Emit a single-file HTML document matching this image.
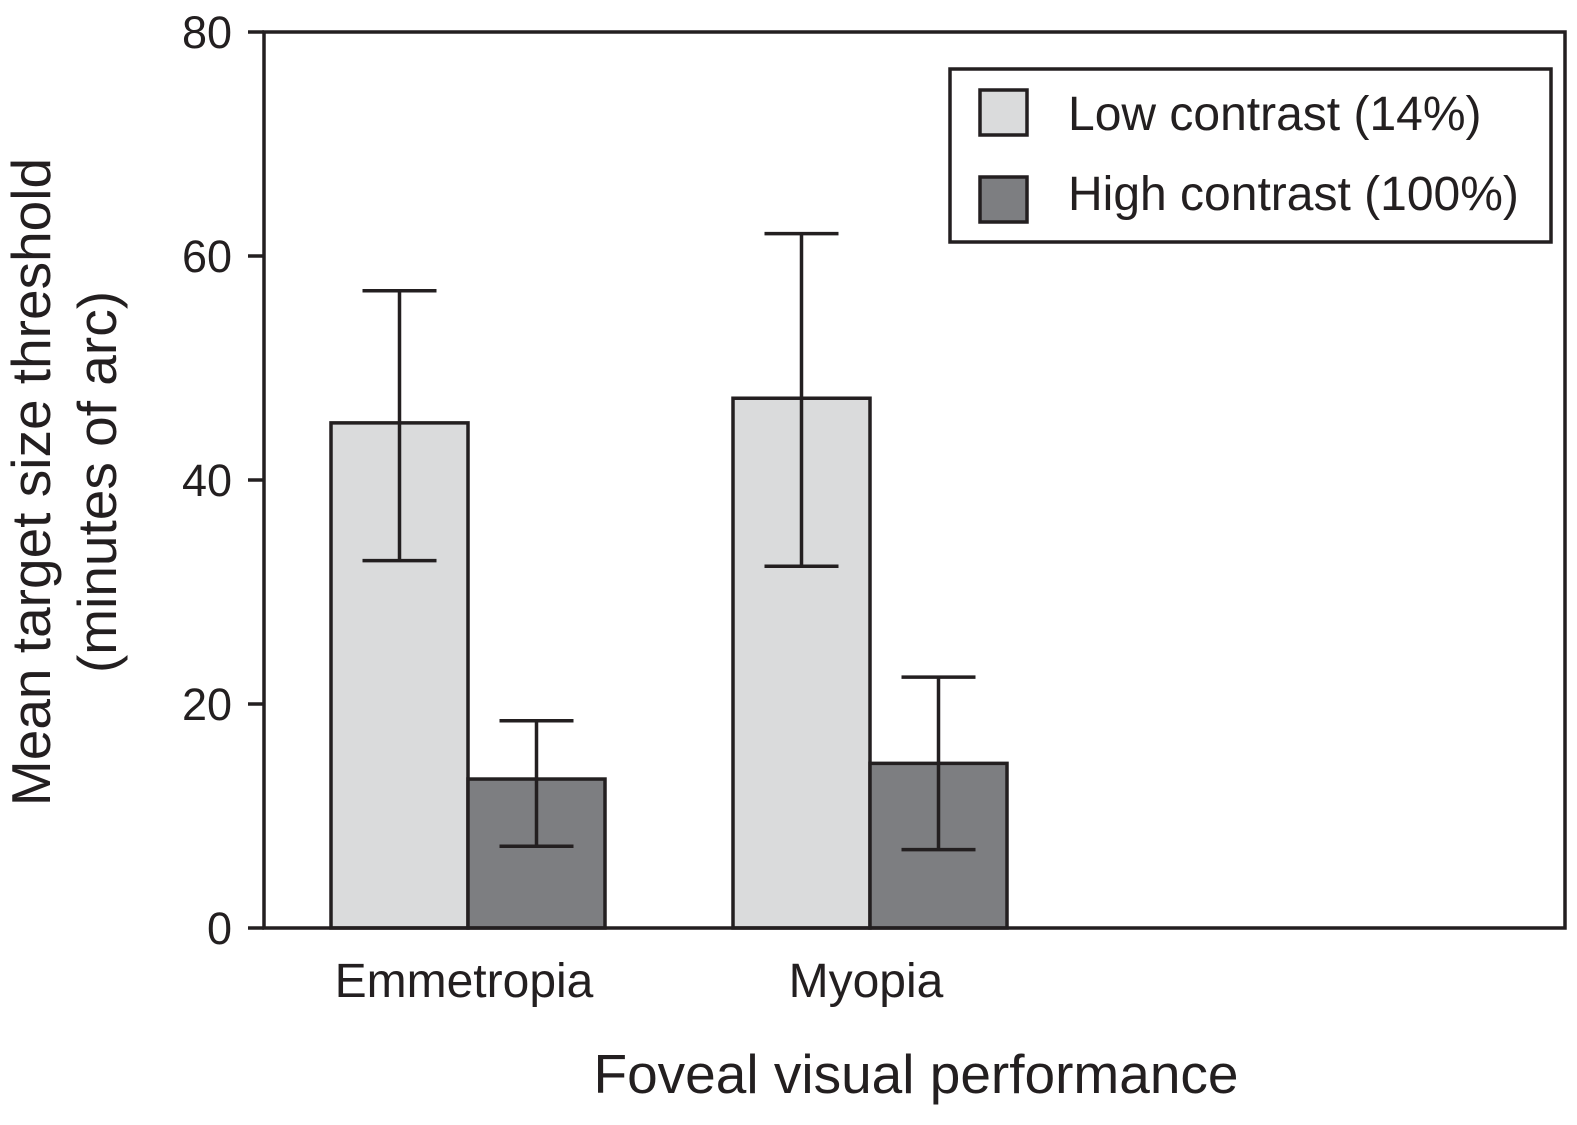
<!DOCTYPE html>
<html><head><meta charset="utf-8"><style>
html,body{margin:0;padding:0;background:#fff;}
svg{display:block;font-family:"Liberation Sans",Arial,sans-serif;}
</style></head><body>
<svg id="chart" width="1577" height="1125" viewBox="0 0 1577 1125" xmlns="http://www.w3.org/2000/svg">
<rect x="0" y="0" width="1577" height="1125" fill="#fff"/>
<g id="plot"></g>
<text x="916" y="1093" font-size="55" text-anchor="middle" fill="#231f20">Foveal visual performance</text>
<text transform="translate(50,482) rotate(-90)" font-size="55" text-anchor="middle" fill="#231f20">Mean target size threshold</text>
<text transform="translate(116,482) rotate(-90)" font-size="55" text-anchor="middle" fill="#231f20">(minutes of arc)</text>
<g>
<rect x="950" y="69" width="601" height="173" fill="#fff" stroke="#231f20" stroke-width="3.5"/>
<rect x="980" y="90" width="47" height="45" fill="#dadbdc" stroke="#231f20" stroke-width="3.5"/>
<text x="1068" y="130" font-size="48" fill="#231f20">Low contrast (14%)</text>
<rect x="980" y="177" width="47" height="45" fill="#7d7e81" stroke="#231f20" stroke-width="3.5"/>
<text x="1068" y="210" font-size="48" fill="#231f20">High contrast (100%)</text>
</g>
</svg>
<script>
const categories = ["Emmetropia", "Myopia"];
const lowValues = [45.1, 47.3];
const lowErrHi = [56.9, 62.0];
const lowErrLo = [32.8, 32.3];
const highValues = [13.3, 14.7];
const highErrHi = [18.5, 22.4];
const highErrLo = [7.3, 7.0];
const yTicks = [0, 20, 40, 60, 80];

const NS = "http://www.w3.org/2000/svg";
const L = 264, R = 1565, T = 32, B = 928, yMax = 80;
const y = v => B - v / yMax * (B - T);
const groupX = i => 468 + i * 402;
const bw = 137;
const g = document.getElementById("plot");
function mk(tag, attrs) { const e = document.createElementNS(NS, tag); for (const k in attrs) e.setAttribute(k, attrs[k]); g.appendChild(e); return e; }
const stroke = "#231f20";

function bar(cx, v, hi, lo, fill, name) {
  const r = mk("rect", {x: cx - bw / 2, y: y(v), width: bw, height: B - y(v), fill: fill, stroke: stroke, "stroke-width": 3.5});
  
  
  const l = mk("path", {d: `M${cx},${y(hi)}V${y(lo)}M${cx - 37},${y(hi)}H${cx + 37}M${cx - 37},${y(lo)}H${cx + 37}`, stroke: stroke, "stroke-width": 3.5, fill: "none"});
  
  
}
categories.forEach((c, i) => {
  const cx = groupX(i);
  bar(cx - bw / 2, lowValues[i], lowErrHi[i], lowErrLo[i], "#dadbdc", "bar-low-" + c.toLowerCase());
  bar(cx + bw / 2, highValues[i], highErrHi[i], highErrLo[i], "#7d7e81", "bar-high-" + c.toLowerCase());
  const t = mk("text", {x: cx - 4, y: 997, "font-size": 48, "text-anchor": "middle", fill: stroke});
  t.textContent = c;
  
  
});
const frame = mk("rect", {x: L, y: T, width: R - L, height: B - T, fill: "none", stroke: stroke, "stroke-width": 3.5});


yTicks.forEach(v => {
  const tk = mk("line", {x1: L - 16, x2: L, y1: y(v), y2: y(v), stroke: stroke, "stroke-width": 3.5});
  
  
  const t = mk("text", {x: 232, y: y(v) + 16, "font-size": 45, "text-anchor": "end", fill: stroke});
  t.textContent = v;
  
  
});
</script>
</body></html>
